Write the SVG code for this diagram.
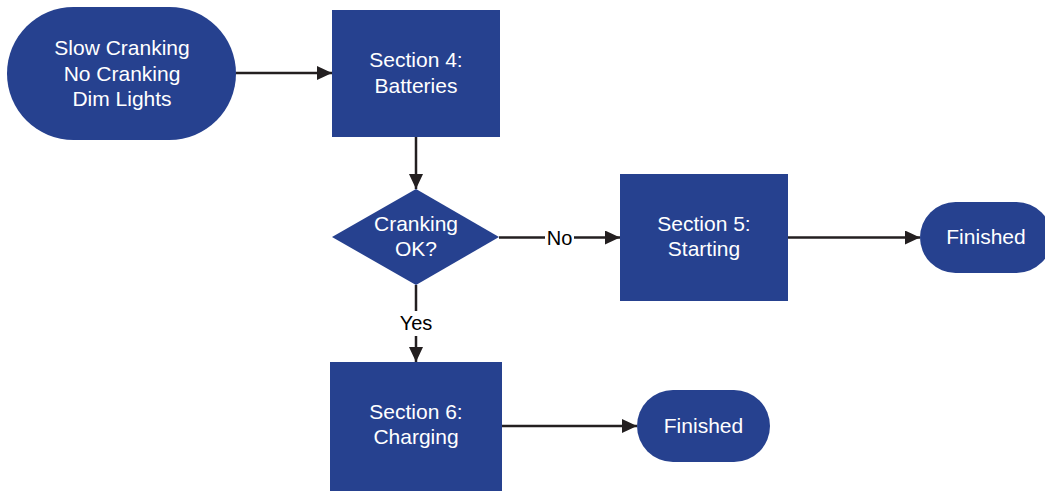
<svg xmlns="http://www.w3.org/2000/svg" width="1045" height="491" viewBox="0 0 1045 491">
<style>
.node{fill:#26418f;}
.nt{font-family:"Liberation Sans",Arial,sans-serif;font-size:21px;fill:#ffffff;text-anchor:middle;}
.edge{stroke:#231f20;stroke-width:2.5;fill:none;marker-end:url(#arrow);}
.lbl{font-family:"Liberation Sans",Arial,sans-serif;font-size:20px;fill:#000000;text-anchor:middle;}
.lblbg{fill:#ffffff;}
</style>
<defs>
<marker id="arrow" viewBox="0 0 15 14" refX="15" refY="7" markerWidth="15" markerHeight="14" markerUnits="userSpaceOnUse" orient="auto">
<path d="M0,0 L15,7 L0,14 z" fill="#231f20"/>
</marker>
</defs>
<rect width="1045" height="491" fill="#ffffff"/>
<g id="connectors">
<path class="edge" d="M236,73 L332,73"/>
<path class="edge" d="M416,137 L416,189"/>
<path class="edge" d="M499,237.5 L620,237.5"/>
<path class="edge" d="M788,237.5 L920,237.5"/>
<path class="edge" d="M416,285 L416,362"/>
<path class="edge" d="M502,426 L637,426"/>
<rect class="lblbg" x="545" y="226" width="29" height="24"/>
<text class="lbl" x="559.5" y="244.5">No</text>
<rect class="lblbg" x="396" y="311" width="40" height="25"/>
<text class="lbl" x="416" y="330">Yes</text>
</g>
<g id="start">
<rect class="node" x="7" y="7" width="229" height="133" rx="66.5" ry="66.5"/>
<text class="nt" x="122" y="55">Slow Cranking</text>
<text class="nt" x="122" y="81">No Cranking</text>
<text class="nt" x="122" y="106">Dim Lights</text>
</g>
<g id="section4">
<rect class="node" x="332" y="10" width="168" height="127"/>
<text class="nt" x="416" y="67">Section 4:</text>
<text class="nt" x="416" y="93">Batteries</text>
</g>
<g id="decision">
<polygon class="node" points="416,189 499,237 416,285 332,237"/>
<text class="nt" x="416" y="231">Cranking</text>
<text class="nt" x="416" y="256">OK?</text>
</g>
<g id="section5">
<rect class="node" x="620" y="174" width="168" height="127"/>
<text class="nt" x="704" y="231">Section 5:</text>
<text class="nt" x="704" y="256">Starting</text>
</g>
<g id="finished1">
<rect class="node" x="920" y="202" width="132" height="71" rx="35.5" ry="35.5"/>
<text class="nt" x="986" y="244">Finished</text>
</g>
<g id="section6">
<rect class="node" x="330" y="362" width="172" height="129"/>
<text class="nt" x="416" y="419">Section 6:</text>
<text class="nt" x="416" y="444">Charging</text>
</g>
<g id="finished2">
<rect class="node" x="637" y="390" width="133" height="72" rx="36" ry="36"/>
<text class="nt" x="703.5" y="433">Finished</text>
</g>
</svg>
